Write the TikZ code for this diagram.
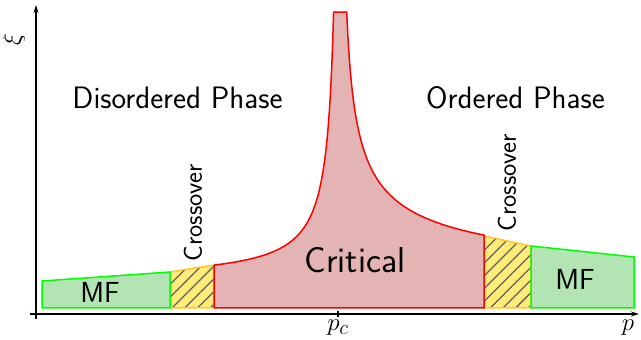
\documentclass[tikz,border=0pt]{standalone}
\usepackage{tikz}
\usetikzlibrary{arrows.meta, patterns.meta, positioning}
\definecolor{critred}{RGB}{228,179,179}
\definecolor{mfgreen}{RGB}{179,228,179}
\definecolor{crossyellow}{RGB}{255,236,120}
\definecolor{crossedge}{RGB}{255,200,40}
\tikzset{
	criticalregion/.style={draw=red, fill=critred, line width=1.5pt, line join=round}
}
\tikzset{
	mfregion/.style={draw=green, fill=mfgreen, line width=1.5pt}
}
\tikzset{
	crossregion/.style={preaction={fill=crossyellow}, draw=crossedge, line width=1.5pt,
		pattern={Lines[angle=45, distance=9pt, line width=1.3pt]}, pattern color=gray!75!black}
}
\tikzset{
	phasetext/.style={font=\sffamily\fontsize{31}{35}\selectfont, anchor=base}
}
\tikzset{
	crosstext/.style={font=\sffamily\fontsize{26}{30}\selectfont, rotate=90, anchor=west}
}
\tikzset{
	axislabel/.style={font=\fontsize{24.88}{28}\selectfont}
}

\begin{document}
\begin{tikzpicture}[x=1pt, y=1pt]
	\useasboundingbox (-36,-26) rectangle (605,314);
	% crossover bands first, neighbours drawn on top
	\draw[crossregion] (134,6) -- (134,42) -- (178,49) -- (178,6) -- cycle;
	\draw[crossregion] (448,6) -- (448,78) -- (495,68) -- (495,6) -- cycle;
	% mean field
	\draw[mfregion] (6,6) -- (6,33) -- (134,42) -- (134,6) -- cycle;
	\draw[mfregion] (495,6) -- (495,68) -- (598,57) -- (598,6) -- cycle;
	% critical region, xi ~ |p-p_c|^-nu, cut off at the top
	\draw[criticalregion] (178,6) -- (178,48.9)
		-- plot[domain=178:297.57, samples=160] (\x, {33.6+1940/(304.8-\x)})
		-- (310.72,302)
		-- plot[domain=310.72:448, samples=160] (\x, {22+681/sqrt(\x-304.8)})
		-- (448,6) -- cycle;

	% axes
	\coordinate (xstart) at (-6,0);
	\coordinate (xend) at (603,0);
	\coordinate (ystart) at (0,-5);
	\coordinate (yend) at (0,309);
	\draw[line width=1.2pt, -{Stealth[length=8pt, width=5pt]}] (xstart) -- (xend);
	\draw[line width=1.2pt, -{Stealth[length=8pt, width=5pt]}] (ystart) -- (yend);
	\draw[line width=1.2pt] (302,-3) -- (302,3);
	\node[axislabel] (pclabel) at (302,-14) {$p_c$};
	\node[axislabel] (plabel) at (592,-14) {$p$};
	\node[axislabel, rotate=90] (xilabel) at (-22,274) {$\xi$};

	% labels
	\node[phasetext] (disordered) at (141.5,205) {Disordered Phase};
	\node[phasetext] (ordered) at (479.5,205) {Ordered Phase};
	\node[phasetext, font=\sffamily\fontsize{36}{40}\selectfont] (critical) at (319,41) {Critical};
	\node[phasetext, font=\sffamily\fontsize{29}{33}\selectfont] (mfleft) at (64,11) {MF};
	\node[phasetext, font=\sffamily\fontsize{29}{33}\selectfont] (mfright) at (539,24) {MF};
	\node[crosstext] (crossleft) at (157,49) {Crossover};
	\node[crosstext] (crossright) at (471,79) {Crossover};
\end{tikzpicture}
\end{document}
